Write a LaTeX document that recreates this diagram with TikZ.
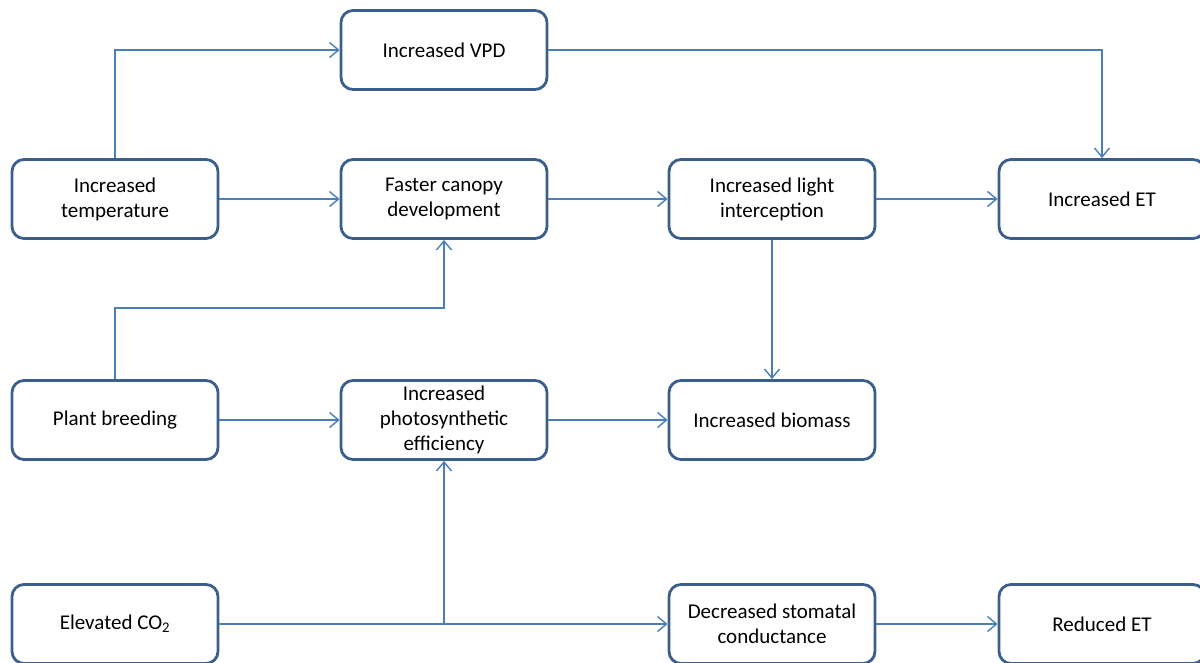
\documentclass[tikz,border=0pt]{standalone}
\usepackage{fontspec}
\setmainfont{Carlito}
\usetikzlibrary{arrows.meta}

\begin{document}
\begin{tikzpicture}[x=1pt, y=-1pt]
\tikzset{boite/.style={draw=boxblue, line width=2.8pt, rounded corners=12pt, fill=white, minimum width=206pt, minimum height=79pt, inner sep=0pt, align=center, font=\fontsize{21}{25}\selectfont}}
\tikzset{fleche/.style={draw=lineblue, line width=1.4pt, -{Straight Barb[length=9pt, width=15pt, line width=1.4pt]}}}
\definecolor{boxblue}{HTML}{3A5F8C}
\definecolor{lineblue}{HTML}{4A7EBB}
\useasboundingbox (0,0) rectangle (1200,662);
\node[boite] (vpd) at (444,50) {Increased VPD};
\node[boite] (temp) at (115,199) {Increased\\temperature};
\node[boite] (canopy) at (444,199) {Faster canopy\\development};
\node[boite] (light) at (772,199) {Increased light\\interception};
\node[boite] (et) at (1102,199) {Increased ET};
\node[boite] (breed) at (115,420) {Plant breeding};
\node[boite] (photo) at (444,420) {Increased\\photosynthetic\\efficiency};
\node[boite] (biomass) at (772,420) {Increased biomass};
\node[boite] (co2) at (115,624) {Elevated CO\textsubscript{2}};
\node[boite] (stoma) at (772,624) {Decreased stomatal\\conductance};
\node[boite] (reduced) at (1102,624) {Reduced ET};
\draw[fleche] (temp.north) |- (vpd.west);
\draw[fleche] (vpd.east) -| (et.north);
\draw[fleche] (temp.east) -- (canopy.west);
\draw[fleche] (canopy.east) -- (light.west);
\draw[fleche] (light.east) -- (et.west);
\draw[fleche] (light.south) -- (biomass.north);
\draw[fleche] (breed.north) -- ++(0,-71) -| (canopy.south);
\draw[fleche] (breed.east) -- (photo.west);
\draw[fleche] (photo.east) -- (biomass.west);
\draw[fleche] (co2.east) -- (stoma.west);
\draw[fleche] (photo.south |- co2.east) -- (photo.south);
\draw[fleche] (stoma.east) -- (reduced.west);
\end{tikzpicture}
\end{document}
